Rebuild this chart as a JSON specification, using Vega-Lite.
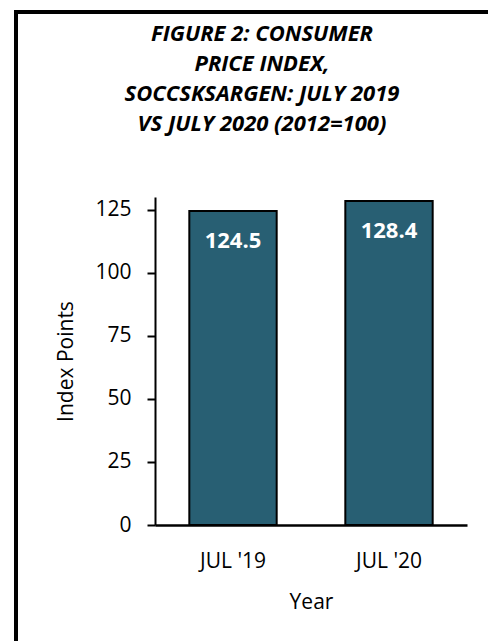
{
  "$schema": "https://vega.github.io/schema/vega-lite/v6.json",
  "width": 492,
  "height": 649,
  "autosize": {"type": "none"},
  "padding": {"left": 16, "top": 12, "right": -20, "bottom": -20},
  "background": "white",
  "config": {
    "view": {"stroke": "black", "strokeWidth": 4},
    "font": "Open Sans"
  },
  "title": {
    "text": ["FIGURE 2: CONSUMER", "PRICE INDEX,", "SOCCSKSARGEN: JULY 2019", "VS JULY 2020 (2012=100)"],
    "fontSize": 22,
    "fontStyle": "italic",
    "fontWeight": "bold",
    "lineHeight": 30,
    "offset": -124,
    "anchor": "middle",
    "color": "black",
    "font": "Open Sans"
  },
  "data": {
    "values": [
      {"Year": "JUL '19", "Value": 124.5},
      {"Year": "JUL '20", "Value": 128.4}
    ]
  },
  "encoding": {
    "x": {
      "field": "Year",
      "type": "nominal",
      "sort": null,
      "scale": {"range": [139, 451], "paddingInner": 0.44, "paddingOuter": 0.22},
      "axis": {
        "title": "Year",
        "offset": -136,
        "labelAngle": 0,
        "domainColor": "black",
        "domainWidth": 2.5,
        "ticks": false,
        "tickSize": 0,
        "labelPadding": 25,
        "labelFontSize": 21,
        "labelColor": "black",
        "titleFontSize": 21,
        "titleFontWeight": "normal",
        "titleColor": "black",
        "titlePadding": 20
      }
    },
    "y": {
      "field": "Value",
      "type": "quantitative",
      "scale": {"domain": [0, 130], "range": [513, 185], "nice": false},
      "axis": {
        "title": "Index Points",
        "values": [0, 25, 50, 75, 100, 125],
        "offset": -139,
        "grid": false,
        "domainColor": "black",
        "domainWidth": 2,
        "tickColor": "black",
        "tickWidth": 2,
        "tickSize": 8,
        "labelPadding": 16,
        "labelFontSize": 21,
        "labelColor": "black",
        "titleFontSize": 21,
        "titleFontWeight": "normal",
        "titleColor": "black",
        "titlePadding": 18
      }
    }
  },
  "layer": [
    {"mark": {"type": "bar", "fill": "#285f73", "stroke": "black", "strokeWidth": 2}},
    {
      "mark": {"type": "text", "baseline": "top", "dy": 20, "color": "white", "fontWeight": "bold", "fontSize": 22},
      "encoding": {"text": {"field": "Value", "type": "quantitative", "format": ".1f"}}
    }
  ]
}
